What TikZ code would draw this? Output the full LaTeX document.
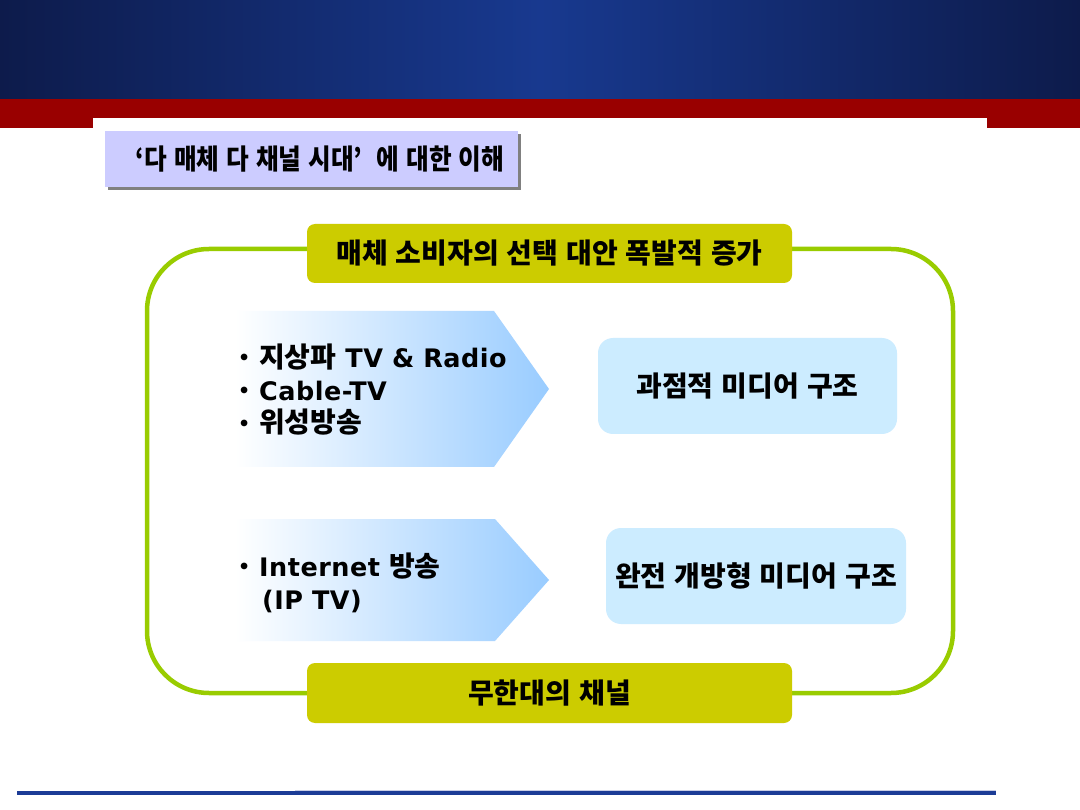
\documentclass[tikz,border=0pt]{standalone}
\usepackage{fontspec}
\usepackage{graphicx}
\newfontfamily\kr{Noto Sans CJK KR}
\newfontfamily\lat[LetterSpace=2]{DejaVu Sans}
\newcommand\hg[1]{{\kr\fontsize{28}{32}\selectfont #1}}
\newcommand\krfont{\kr\bfseries\fontsize{28}{32}\selectfont\spaceskip 8pt\relax}
\newcommand\latfont{\lat\bfseries\fontsize{25.5}{30}\selectfont\spaceskip 9pt\relax}
\newcommand\dotfont{\lat\bfseries\fontsize{19}{20}\selectfont}
\definecolor{navyd}{HTML}{0D1B4B}
\definecolor{navyb}{HTML}{18398F}
\definecolor{redb}{HTML}{990000}
\definecolor{lav}{HTML}{CCCCFF}
\definecolor{shadowg}{HTML}{808080}
\definecolor{olivec}{HTML}{CCCC00}
\definecolor{greenl}{HTML}{99CC00}
\definecolor{lblue}{HTML}{CCECFF}
\definecolor{chevb}{HTML}{99CCFF}
\definecolor{lineb}{HTML}{1C3C96}
\definecolor{linel}{HTML}{C9CEE6}
\begin{document}
\begin{tikzpicture}[x=1pt,y=-1pt,
 krb/.style={font=\krfont, text=black},
 oliveb/.style={krb, fill=olivec, rounded corners=8pt, minimum width=485pt, minimum height=59pt, inner sep=0pt},
 lbox/.style={krb, fill=lblue, rounded corners=15pt, minimum height=96pt, inner sep=0pt},
 bullet/.style={anchor=base west, inner sep=0pt, text=black, font=\latfont},
 dot/.style={anchor=base west, inner sep=0pt, text=black, font=\dotfont},
 chev/.style={left color=white, right color=chevb, draw=none},
 frame/.style={draw=greenl, line width=4.5pt, rounded corners=62pt},
]
\useasboundingbox (0,0) rectangle (1080,810);
\fill[white] (0,0) rectangle (1080,810);
% header
\fill[left color=navyd, right color=navyd, middle color=navyb] (0,0) rectangle (1080,99);
\fill[redb] (0,99) rectangle (1080,128);
\fill[white] (93,118) rectangle (987,128);
% title
\fill[shadowg] (108,134) rectangle (521,190);
\node[fill=lav, minimum width=413pt, minimum height=56pt, anchor=north west, inner sep=0pt] (title) at (105,131) {};
\node[krb, inner sep=0pt] (titletext) at (320,159)
  {\scalebox{0.88}[1]{‘다 매체 다 채널 시대’\hspace{16pt}에 대한 이해}};
% green frame
\draw[frame] (147,249) rectangle (953,693);
% olive boxes
\node[oliveb] (top) at (549.5,253.5) {매체 소비자의 선택 대안 폭발적 증가};
\node[oliveb, minimum height=60pt] (bot) at (549.5,693) {무한대의 채널};
% chevrons
\shade[chev] (235,311) -- (494,311) -- (549,389) -- (494,467) -- (235,467) -- cycle;
\shade[chev] (235,519) -- (495,519) -- (549,580) -- (495,641) -- (235,641) -- cycle;
% bullets
\node[dot] (d1) at (238,365) {•};
\node[bullet] (t1) at (259,368) {\hg{지상파} TV \& Radio};
\node[dot] (d2) at (238,398) {•};
\node[bullet] (t2) at (259,401) {Cable-TV};
\node[dot] (d3) at (238,431) {•};
\node[bullet] (t3) at (259,433) {\hg{위성방송}};
\node[dot] (d4) at (238,573) {•};
\node[bullet] (t4) at (259,576) {Internet \hg{방송}};
\node[bullet] (t5) at (262,609) {(IP TV)};
% light blue boxes
\node[lbox, minimum width=299pt] (s1) at (747.5,386) {과점적 미디어 구조};
\node[lbox, minimum width=300pt] (s2) at (756,576) {완전 개방형 미디어 구조};
% bottom line
\fill[lineb] (17,791) rectangle (996,795);
\fill[linel] (295,789.5) rectangle (996,791);
\end{tikzpicture}
\end{document}
